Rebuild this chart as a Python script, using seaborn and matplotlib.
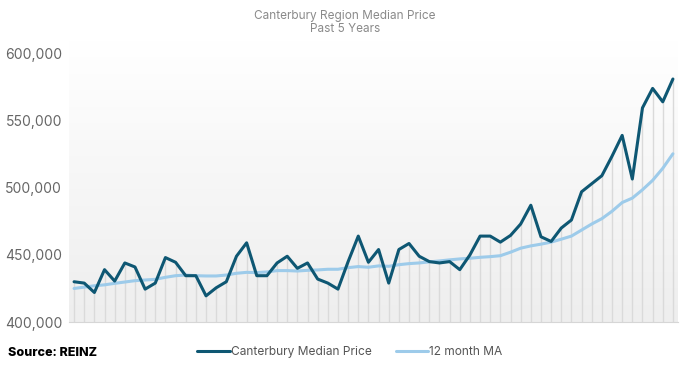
import numpy as np
import pandas as pd
import matplotlib
matplotlib.use("Agg")
import matplotlib.pyplot as plt
import seaborn as sns
from matplotlib.lines import Line2D

median_price = [430000, 429000, 422000, 439000, 430500, 444000, 441000, 424500, 429000, 448000,
                444500, 434500, 434500, 419500, 425500, 430000, 449000, 459000, 434500, 434500,
                444000, 449000, 440000, 444000, 432000, 429000, 424500, 445000, 464000, 444500,
                454000, 429000, 454000, 458500, 449000, 445000, 444000, 445000, 439000, 450000,
                464000, 464000, 459500, 464500, 473000, 487000, 463500, 460000, 470000, 476000,
                497000, 503000, 509000, 523500, 539000, 506500, 559500, 574000, 564000, 581000]
moving_avg = [425000, 426000, 427000, 427700, 428800, 429800, 430800, 431300, 431800, 433300,
              434500, 435000, 434500, 434300, 434300, 435000, 436300, 437000, 436800, 437300,
              438300, 438300, 438000, 438500, 438800, 439300, 439300, 440500, 441300, 440800,
              441800, 441500, 442700, 443500, 444000, 444800, 445500, 446300, 447000, 447500,
              448200, 448700, 449400, 452000, 455000, 456700, 458000, 459500, 461700, 464000,
              468500, 473000, 477000, 482500, 489000, 492300, 498500, 505500, 514500, 525300]
y_ticks = [400000, 450000, 500000, 550000, 600000]

df = pd.DataFrame({"month": np.arange(len(median_price)),
                   "Canterbury Median Price": median_price,
                   "12 month MA": moving_avg})

sns.set_style("white")
plt.rcParams["font.family"] = ["Inter", "DejaVu Sans"]

dark = "#0e5773"
light = "#9dcbea"

fig = plt.figure(figsize=(6.9, 3.71), dpi=100)
ax = fig.add_axes([0.1, 0.132, 0.8826, 0.76])
n = len(df)
ax.set_xlim(-0.5, n - 0.5)
ax.set_ylim(400000, 610000)

# gradient background: light grey at the bottom fading to white at the top
grad = np.linspace(0, 1, 256).reshape(-1, 1)
ax.imshow(grad, extent=[-0.5, n - 0.5, 400000, 610000], aspect="auto",
          cmap=matplotlib.colors.LinearSegmentedColormap.from_list("bg", ["#eeeeee", "#ffffff"]),
          origin="lower", zorder=0)

ax.vlines(df["month"], 400000, df["Canterbury Median Price"], color="#dadada", lw=1, zorder=1)
sns.lineplot(data=df, x="month", y="12 month MA", color=light, lw=2.2, ax=ax, zorder=3)
sns.lineplot(data=df, x="month", y="Canterbury Median Price", color=dark, lw=2.2, ax=ax, zorder=4)

ax.set_yticks(y_ticks)
ax.set_yticklabels([f"{v:,}" for v in y_ticks], color="#666666", fontsize=10)
ax.set_xticks(np.arange(n + 1) - 0.5)
ax.set_xticklabels([])
ax.tick_params(axis="x", length=3, color="#d0d0d0", width=0.8)
ax.tick_params(axis="y", length=0, pad=5)
ax.set_xlabel("")
ax.set_ylabel("")
for s in ["top", "right", "left"]:
    ax.spines[s].set_visible(False)
ax.spines["bottom"].set_color("#d6d6d6")

fig.text(0.5, 0.957, "Canterbury Region Median Price", ha="center", va="center",
         color="#8a8a8a", fontsize=8.5)
fig.text(0.5, 0.922, "Past 5 Years", ha="center", va="center", color="#8a8a8a", fontsize=8.5)
fig.text(0.012, 0.048, "Source: REINZ", ha="left", va="center", color="black",
         fontsize=9, fontweight="heavy")

handles = [Line2D([0], [0], color=dark, lw=2.2), Line2D([0], [0], color=light, lw=2.2)]
fig.legend(handles, ["Canterbury Median Price", "12 month MA"], loc="center",
           bbox_to_anchor=(0.507, 0.052), ncol=2, frameon=False, fontsize=8.6,
           labelcolor="#555555", handlelength=2.7, handletextpad=0.1, columnspacing=2.0)

fig.savefig("out.png", dpi=100)
